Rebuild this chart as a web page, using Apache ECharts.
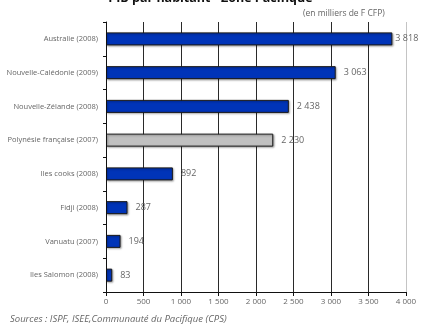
<!DOCTYPE html>
<html>
<head>
<meta charset="utf-8">
<script src="https://cdn.jsdelivr.net/npm/echarts@6/dist/echarts.min.js"></script>
<style>
  html, body { margin: 0; padding: 0; background: #fff; }
  #chart { width: 421px; height: 326px; }
</style>
</head>
<body>
<div id="chart"></div>
<script>
// PIB par habitant, en milliers de F CFP
const categories = [
  'Australie (2008)',
  'Nouvelle-Calédonie (2009)',
  'Nouvelle-Zélande (2008)',
  'Polynésie française (2007)',
  'Iles cooks (2008)',
  'Fidji (2008)',
  'Vanuatu (2007)',
  'Iles Salomon (2008)'
];
const values = [3818, 3063, 2438, 2230, 892, 287, 194, 83];
const highlighted = 'Polynésie française (2007)';
const xTicks = [0, 500, 1000, 1500, 2000, 2500, 3000, 3500, 4000];
const xMin = 0;
const xMax = 4000;
const xStep = 500;

const fmt = v => String(v).replace(/\B(?=(\d{3})+(?!\d))/g, ' ');
const FONT = '"Open Sans", "DejaVu Sans", sans-serif';

const chart = echarts.init(document.getElementById('chart'), null, { renderer: 'canvas' });

// vertical grid lines at each tick, the last one in light grey
const gridLines = xTicks.filter(t => t > xMin).map(t => ({
  xAxis: t,
  lineStyle: { color: t === xMax ? '#c4c4c4' : '#2a2a2a', width: 1, type: 'solid' }
}));

chart.setOption({
  animation: false,
  textStyle: { fontFamily: FONT },
  grid: { left: 106, right: 15, top: 22, bottom: 34, containLabel: false },
  graphic: [
    { type: 'text', left: 'center', top: -8,
      style: { text: 'PIB par habitant - Zone Pacifique', font: 'bold 12.5px ' + FONT, fill: '#111' } },
    { type: 'text', x: 303, y: 9,
      style: { text: '(en milliers de F CFP)', font: '8.5px ' + FONT, fill: '#666' } },
    { type: 'text', x: 10, y: 314,
      style: { text: 'Sources : ISPF, ISEE,Communauté du Pacifique (CPS)', font: 'italic 9.5px ' + FONT, fill: '#666' } }
  ],
  xAxis: {
    type: 'value', min: xMin, max: xMax, interval: xStep,
    axisLine: { show: true, lineStyle: { color: '#111', width: 1 } },
    axisTick: { show: true, length: 4, lineStyle: { color: '#111' } },
    axisLabel: { formatter: v => fmt(v), fontSize: 8, color: '#666', margin: 6, fontFamily: FONT },
    splitLine: { show: false }
  },
  yAxis: {
    type: 'category', data: categories, inverse: true, z: 10,
    axisLine: { show: true, lineStyle: { color: '#111', width: 1 } },
    axisTick: { show: true, length: 3, lineStyle: { color: '#111' } },
    axisLabel: { fontSize: 7.5, color: '#666', margin: 8, fontFamily: FONT },
    splitLine: { show: false }
  },
  series: [{
    type: 'bar',
    barWidth: 13,
    z: 3,
    data: values.map((v, i) => ({
      value: v,
      itemStyle: { color: categories[i] === highlighted ? '#c0c0c0' : '#0034b8' },
      label: { distance: i === 0 ? 3 : 8 }
    })),
    itemStyle: {
      borderColor: '#1a1a1a', borderWidth: 1,
      shadowColor: 'rgba(0,0,0,0.35)', shadowBlur: 2, shadowOffsetX: 1, shadowOffsetY: 1
    },
    label: {
      show: true, position: 'right', fontSize: 9, color: '#666', fontFamily: FONT,
      formatter: p => fmt(p.value)
    }
  }, {
    // carrier series for the grid lines, drawn beneath the bars
    type: 'line',
    data: [],
    z: 1,
    silent: true,
    markLine: {
      silent: true, symbol: 'none', z: 1, animation: false,
      label: { show: false },
      data: gridLines
    }
  }]
});
</script>
</body>
</html>
